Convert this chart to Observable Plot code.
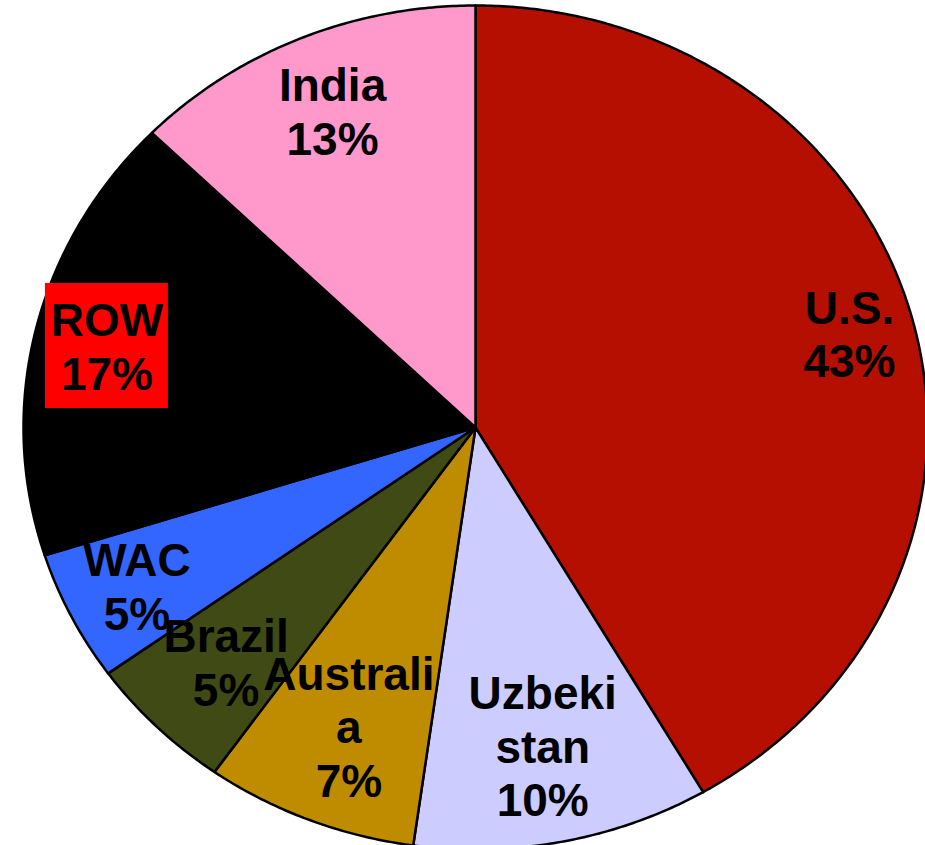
<!DOCTYPE html>
<html>
<head>
<meta charset="utf-8">
<script src="https://cdn.jsdelivr.net/npm/d3@7"></script>
<script src="https://cdn.jsdelivr.net/npm/@observablehq/plot@0.6"></script>
<style>
  html, body { margin: 0; padding: 0; background: #fff; overflow: hidden; }
  #chart svg { display: block; }
</style>
</head>
<body>
<div id="chart"></div>
<script>
// Slices, clockwise from 12 o'clock (shares measured from slice angles)
const countries = ["U.S.", "Uzbekistan", "Australia", "Brazil", "WAC", "ROW", "India"];
const shares = [41.6, 10.6, 7.6, 5.3, 5.0, 17.2, 12.7];
const labelTexts = ["U.S.\n43%", "Uzbeki\nstan\n10%", "Australi\na\n7%", "Brazil\n5%", "WAC\n5%", "ROW\n17%", "India\n13%"];
const sliceColors = ["#B40F00", "#CCCCFF", "#BF8C00", "#3F4A14", "#3366FF", "#000000", "#FF99CC"];

// Layout (label distance from centre as a fraction of the radius)
const labelRadius = [0.857, 0.768, 0.761, 0.783, 0.838, 0.838, 0.814];
const boxedLabels = ["ROW"];
const boxColor = "#FF0000";

const W = 925, H = 845;
const cx = 475, cy = 427, rx = 452, ry = 422;
const xDomain = [-cx / rx, (W - cx) / rx];
const yDomain = [-(H - cy) / ry, cy / ry];

const pie = d3.pie().sort(null).value(d => d)(shares);

const polys = [];
pie.forEach((p, i) => {
  const a0 = p.startAngle, a1 = p.endAngle;
  polys.push({country: countries[i], x: 0, y: 0});
  const n = Math.max(2, Math.ceil((a1 - a0) / (Math.PI / 360)));
  for (let k = 0; k <= n; k++) {
    const a = a0 + (a1 - a0) * k / n;
    polys.push({country: countries[i], x: Math.sin(a), y: Math.cos(a)});
  }
});

const labels = pie.map((p, i) => {
  const a = (p.startAngle + p.endAngle) / 2;
  return {country: countries[i], text: labelTexts[i], x: labelRadius[i] * Math.sin(a), y: labelRadius[i] * Math.cos(a)};
});

const boxHalfW = 61.5 / rx, boxHalfH = 62.5 / ry;
const boxes = labels.filter(d => boxedLabels.includes(d.country)).map(d => ({
  x1: d.x - boxHalfW, x2: d.x + boxHalfW, y1: d.y - boxHalfH, y2: d.y + boxHalfH
}));

const chart = Plot.plot({
  width: W,
  height: H,
  margin: 0,
  x: {domain: xDomain, axis: null},
  y: {domain: yDomain, axis: null},
  color: {domain: countries, range: sliceColors},
  style: {background: "white", fontFamily: "'Liberation Sans', Arial, sans-serif"},
  marks: [
    Plot.line(polys, {x: "x", y: "y", z: "country", fill: "country", stroke: "black", strokeWidth: 2.5, curve: "linear-closed", strokeLinejoin: "round"}),
    Plot.rect(boxes, {x1: "x1", x2: "x2", y1: "y1", y2: "y2", fill: boxColor}),
    Plot.text(labels, {x: "x", y: "y", text: "text", fontSize: 46, fontWeight: "bold", fill: "black", lineHeight: 1.16, fontFamily: "'Liberation Sans', Arial, sans-serif"})
  ]
});
document.getElementById("chart").appendChild(chart);
</script>
</body>
</html>
